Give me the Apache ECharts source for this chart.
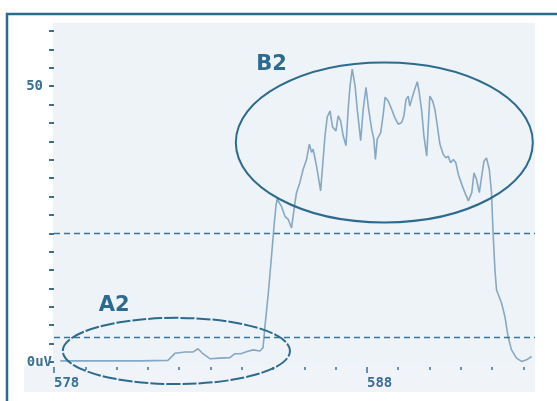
<!DOCTYPE html>
<html lang="en" style="height:100%">
<head>
    <meta charset="UTF-8">
    <title>A2 / B2</title>
    <script src="https://cdn.jsdelivr.net/npm/echarts@6/dist/echarts.min.js"></script>
</head>
<body style="height:100%;margin:0;background:#fff">
<div id="main" style="width:557px;height:401px;"></div>
<script type="text/javascript">
    // wavelength (nm) and signal
    var wavelength = [578.2, 579.47, 580.75, 581.64, 581.87, 582.19, 582.44, 582.60, 582.76, 582.98,
        583.30, 583.62, 583.78, 583.97, 584.17, 584.36, 584.58, 584.68, 584.74, 584.85,
        584.96, 585.03, 585.09, 585.13, 585.27, 585.38, 585.49, 585.59, 585.70, 585.75,
        585.86, 585.96, 586.07, 586.16, 586.23, 586.28, 586.39, 586.52, 586.60, 586.66,
        586.73, 586.82, 586.90, 587.01, 587.08, 587.16, 587.24, 587.33, 587.40, 587.46,
        587.53, 587.62, 587.69, 587.80, 587.88, 587.97, 588.04, 588.15, 588.22, 588.27,
        588.33, 588.44, 588.52, 588.58, 588.68, 588.79, 588.89, 589.00, 589.11, 589.18,
        589.25, 589.32, 589.37, 589.46, 589.53, 589.61, 589.67, 589.75, 589.82, 589.91,
        589.96, 590.01, 590.10, 590.17, 590.25, 590.33, 590.44, 590.52, 590.60, 590.67,
        590.76, 590.84, 590.92, 591.03, 591.13, 591.24, 591.35, 591.42, 591.50, 591.59,
        591.66, 591.74, 591.82, 591.91, 591.98, 592.03, 592.09, 592.14, 592.30, 592.41,
        592.51, 592.62, 592.78, 592.94, 593.10, 593.26];
    var signal = [0.2, 0.2, 0.2, 0.3, 1.6, 1.8, 1.8, 2.4, 1.5, 0.6,
        0.7, 0.8, 1.5, 1.5, 1.9, 2.2, 2.0, 2.6, 6.4, 12.6,
        19.8, 24.6, 28.2, 29.5, 28.2, 26.4, 25.8, 24.3, 28.9, 30.7,
        32.6, 34.9, 36.7, 39.5, 38.0, 38.6, 35.5, 31.0, 36.7, 41.0,
        44.4, 45.5, 42.6, 41.9, 44.6, 43.7, 41.0, 39.2, 45.8, 50.1,
        53.1, 50.1, 45.8, 40.1, 45.8, 49.8, 46.4, 42.2, 40.4, 36.7,
        40.4, 41.6, 44.9, 48.0, 47.3, 45.8, 44.3, 43.1, 43.4, 44.6,
        47.6, 48.2, 46.4, 48.2, 49.5, 50.8, 48.9, 45.5, 41.0, 37.3,
        42.8, 48.2, 47.3, 45.8, 42.8, 39.5, 37.6, 37.0, 37.3, 36.1,
        36.7, 36.1, 34.0, 32.2, 30.7, 29.2, 30.7, 34.3, 33.1, 30.7,
        33.4, 36.4, 37.0, 34.9, 30.7, 23.5, 16.7, 13.1, 10.7, 8.2,
        4.6, 2.2, 0.7, 0.1, 0.4, 1.0];
    var thresholds = [23.3, 4.4];
    var xMajorTicks = [578, 588];
    var xMinorTicks = [579, 580, 581, 582, 583, 584, 585, 586, 587, 589, 590, 591, 592, 593];
    var yLabelValues = [0, 50];

    // region annotations (data coordinates: x range, y range)
    var regions = [
        {name: 'A2', x: [578.28, 585.54], y: [-4.0, 8.0], label: [579.92, 10.15], dashed: true},
        {name: 'B2', x: [583.81, 593.30], y: [25.3, 54.3], label: [584.95, 54.0], dashed: false}
    ];

    var ink = '#2c6b8e';
    var textInk = '#3b7093';
    var axisFont = {fontFamily: 'DejaVu Sans Mono', fontWeight: 'bold', fontSize: 14, color: textInk};

    var myChart = echarts.init(document.getElementById('main'));
    var option = {
        animation: false,
        grid: {left: 54, right: 22, top: 31, bottom: 39},
        xAxis: [
            {
                type: 'value', min: 578, max: 593.37, position: 'bottom', offset: 5,
                axisLine: {show: false, onZero: false},
                axisTick: {show: true, customValues: xMinorTicks, length: 3,
                    lineStyle: {color: textInk, width: 1.5}},
                axisLabel: {show: false},
                splitLine: {show: false}
            },
            {
                type: 'value', min: 578, max: 593.37, position: 'bottom', offset: 5,
                axisLine: {show: false, onZero: false},
                axisTick: {show: true, customValues: xMajorTicks, length: 6,
                    lineStyle: {color: textInk, width: 1.5}},
                axisLabel: Object.assign({customValues: xMajorTicks, align: 'left', margin: 9}, axisFont),
                splitLine: {show: false}
            }
        ],
        yAxis: {
            type: 'value', min: 0, max: 60, interval: 10 / 3,
            axisLine: {show: false},
            axisTick: {show: true, length: 5, lineStyle: {color: textInk, width: 2}},
            axisLabel: Object.assign({
                customValues: yLabelValues,
                margin: 2,
                formatter: function (v) {
                    return v === 0 ? '{z|0uV}' : '{n|' + v + '}';
                },
                rich: {
                    z: axisFont,
                    n: Object.assign({padding: [0, 9, 0, 0]}, axisFont)
                }
            }, axisFont),
            splitLine: {show: false}
        },
        series: [{
            type: 'line',
            xAxisIndex: 0,
            showSymbol: false,
            data: wavelength.map(function (w, i) { return [w, signal[i]]; }),
            lineStyle: {color: '#86a8c3', width: 1.6},
            markLine: {
                silent: true,
                symbol: 'none',
                label: {show: false},
                lineStyle: {color: '#3a7498', width: 1.4, type: [6, 4]},
                data: thresholds.map(function (t) { return {yAxis: t}; })
            },
            z: 3
        }]
    };
    myChart.setOption(option);

    // background panels, frame and region ellipses
    var graphics = [
        {type: 'rect', z: -30, silent: true, shape: {x: 7, y: 14, width: 580, height: 420},
            style: {fill: '#ffffff', stroke: '#2b6b8c', lineWidth: 2.5}},
        {type: 'rect', z: -20, silent: true, shape: {x: 53, y: 23, width: 482, height: 342},
            style: {fill: '#eef3f8'}},
        {type: 'rect', z: -20, silent: true, shape: {x: 24, y: 365, width: 511, height: 27},
            style: {fill: '#f0f4f8'}}
    ];
    regions.forEach(function (r) {
        var p0 = myChart.convertToPixel({gridIndex: 0}, [r.x[0], r.y[0]]);
        var p1 = myChart.convertToPixel({gridIndex: 0}, [r.x[1], r.y[1]]);
        var lp = myChart.convertToPixel({gridIndex: 0}, r.label);
        graphics.push({
            type: 'ellipse', z: 10, silent: true,
            shape: {cx: (p0[0] + p1[0]) / 2, cy: (p0[1] + p1[1]) / 2,
                rx: Math.abs(p1[0] - p0[0]) / 2, ry: Math.abs(p1[1] - p0[1]) / 2},
            style: {fill: 'none', stroke: ink, lineWidth: 2, lineDash: r.dashed ? [14, 2] : null}
        });
        graphics.push({
            type: 'text', z: 10, silent: true, x: lp[0], y: lp[1],
            style: {text: r.name, align: 'center', verticalAlign: 'middle',
                font: 'bold 21px "DejaVu Sans"', fill: ink}
        });
    });
    myChart.setOption({graphic: graphics});
</script>
</body>
</html>
